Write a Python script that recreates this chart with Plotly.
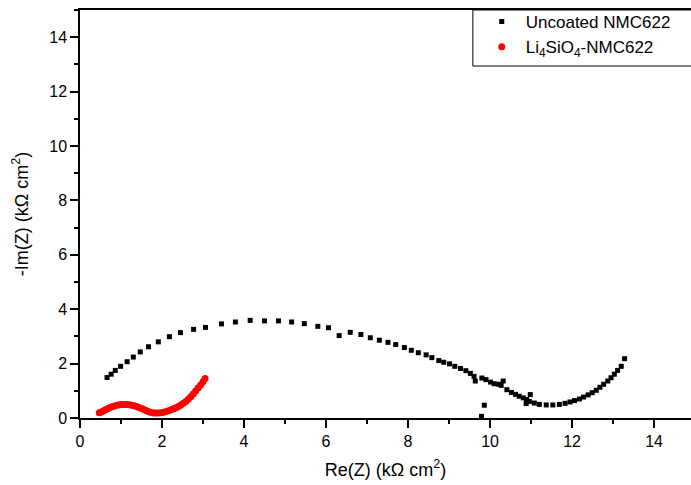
import plotly.graph_objects as go

# Nyquist data, Re(Z) and -Im(Z) in kOhm cm^2
uncoated_re = [0.66, 0.76, 0.86, 0.99, 1.15, 1.30, 1.47, 1.67, 1.91, 2.18, 2.45, 2.77, 3.06,
               3.45, 3.79, 4.15, 4.50, 4.84, 5.16, 5.47, 5.80, 6.06, 6.32, 6.59, 6.85, 7.08,
               7.30, 7.51, 7.70, 7.91, 8.08, 8.25, 8.44, 8.58, 8.75, 8.87, 9.01, 9.14, 9.28,
               9.41, 9.52, 9.61, 9.64, 9.80, 9.90, 10.01, 10.10, 10.21, 10.27, 10.32, 10.41,
               10.52, 10.62, 10.71, 10.81, 10.89, 10.96, 10.98, 10.88, 11.08, 11.20, 11.37,
               11.53, 11.69, 11.83, 11.95, 12.06, 12.18, 12.28, 12.39, 12.49, 12.59, 12.68,
               12.77, 12.87, 12.95, 13.03, 13.11, 13.20, 13.28, 9.86, 9.79]
uncoated_im = [1.49, 1.61, 1.75, 1.90, 2.07, 2.24, 2.43, 2.62, 2.80, 2.99, 3.14, 3.26, 3.33,
               3.46, 3.53, 3.59, 3.57, 3.57, 3.53, 3.47, 3.37, 3.32, 3.03, 3.15, 3.07, 2.95,
               2.86, 2.78, 2.70, 2.59, 2.49, 2.40, 2.32, 2.22, 2.11, 2.05, 1.99, 1.90, 1.82,
               1.74, 1.64, 1.53, 1.36, 1.47, 1.41, 1.32, 1.26, 1.24, 1.20, 1.36, 1.04,
               0.94, 0.87, 0.80, 0.74, 0.68, 0.61, 0.86, 0.53, 0.55, 0.50, 0.48,
               0.48, 0.50, 0.54, 0.59, 0.64, 0.70, 0.77, 0.85, 0.93, 1.02, 1.13,
               1.24, 1.36, 1.48, 1.61, 1.75, 1.90, 2.18, 0.47, 0.06]

coated_re = [0.47, 0.52, 0.57, 0.62, 0.67, 0.72, 0.78, 0.84, 0.90, 0.96, 1.02, 1.08, 1.14,
             1.20, 1.26, 1.32, 1.38, 1.44, 1.50, 1.56, 1.62, 1.68, 1.74, 1.80, 1.86, 1.92,
             1.98, 2.04, 2.10, 2.16, 2.22, 2.28, 2.34, 2.40, 2.46, 2.52, 2.58, 2.64, 2.70,
             2.76, 2.82, 2.88, 2.94, 3.00, 3.05]
coated_im = [0.19, 0.22, 0.26, 0.30, 0.34, 0.38, 0.41, 0.44, 0.47, 0.49, 0.50, 0.50, 0.50,
             0.49, 0.47, 0.45, 0.42, 0.39, 0.35, 0.31, 0.27, 0.23, 0.20, 0.18, 0.18, 0.18,
             0.19, 0.21, 0.24, 0.27, 0.30, 0.34, 0.38, 0.42, 0.48, 0.54, 0.61, 0.69, 0.78,
             0.88, 0.99, 1.10, 1.21, 1.33, 1.45]

FONT = "Arial, Liberation Sans, sans-serif"

fig = go.Figure()
fig.add_trace(go.Scatter(
    x=uncoated_re, y=uncoated_im, mode="markers", name="Uncoated NMC622",
    marker=dict(symbol="square", size=5, color="black"),
))
fig.add_trace(go.Scatter(
    x=coated_re, y=coated_im, mode="markers", name="Li<sub>4</sub>SiO<sub>4</sub>-NMC622",
    marker=dict(symbol="circle", size=7, color="#ff0000"),
))

axis_common = dict(
    showgrid=False, zeroline=False, showline=True, linecolor="black", linewidth=1.5,
    ticks="outside", ticklen=8, tickwidth=1.5, tickcolor="black",
    tickfont=dict(family=FONT, size=16, color="black"),
    minor=dict(ticks="outside", ticklen=4, tickwidth=1.5, tickcolor="black", dtick=1),
    dtick=2, tick0=0,
)

fig.update_xaxes(
    range=[0, 14.9], mirror=True,
    title=dict(text="Re(Z) (kΩ cm<sup>2</sup>)", font=dict(family=FONT, size=18, color="black"),
               standoff=14),
    **axis_common,
)
fig.update_yaxes(
    range=[0, 15], mirror=False,
    title=dict(text="-Im(Z) (kΩ cm<sup>2</sup>)", font=dict(family=FONT, size=18, color="black"),
               standoff=16),
    **axis_common,
)

# legend frame: shares the plot's top edge and runs off the right side
fig.add_shape(
    type="rect", xref="paper", yref="paper",
    x0=0.643, x1=1.2, y0=0.8627, y1=1.0,
    line=dict(color="black", width=1), fillcolor="white", layer="above",
)

fig.update_layout(
    width=691, height=485,
    margin=dict(l=80, r=0, t=10, b=67, autoexpand=False),
    paper_bgcolor="white", plot_bgcolor="white",
    font=dict(family=FONT, color="black"),
    legend=dict(
        x=0.651, y=1.0147, xanchor="left", yanchor="top",
        bgcolor="rgba(0,0,0,0)", borderwidth=0,
        font=dict(family=FONT, size=17, color="black"),
        itemwidth=38, tracegroupgap=0,
    ),
)

fig.write_html("out.html")
